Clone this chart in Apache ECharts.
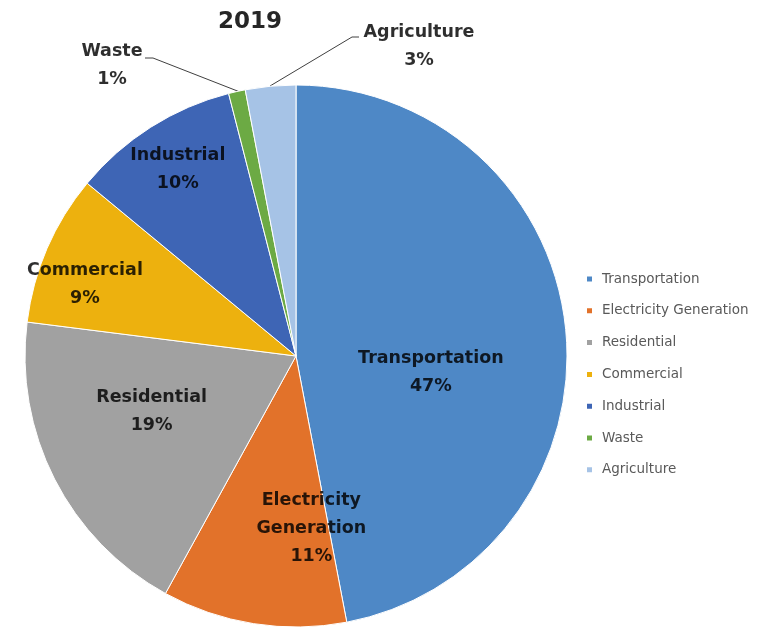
<!DOCTYPE html>
<html>
<head>
<meta charset="utf-8">
<script src="https://cdn.jsdelivr.net/npm/echarts@6/dist/echarts.min.js"></script>
<style>
html,body{margin:0;padding:0;background:#fff;}
#chart{width:761px;height:629px;}
</style>
</head>
<body>
<div id="chart"></div>
<script>
const titleText = '2019';
const categories = ['Transportation', 'Electricity Generation', 'Residential', 'Commercial', 'Industrial', 'Waste', 'Agriculture'];
const values = [47, 11, 19, 9, 10, 1, 3];
const colors = ['#4E88C6', '#E2722A', '#A1A1A1', '#EDB10E', '#3E65B5', '#6CAA44', '#A6C3E6'];
const labelOffsets = [[-3, 29], [37, 36], [-21, -7], [-84, -17], [-44, -70], [0, 0], [0, 0]];

const chart = echarts.init(document.getElementById('chart'));

const data = categories.map((c, i) => {
  const item = { name: c, value: values[i], itemStyle: { color: colors[i] } };
  if (i < 5) {
    item.label = { position: 'inside', offset: labelOffsets[i] };
  } else {
    item.label = { position: 'outside' };
    item.labelLine = { show: true, lineStyle: { color: '#404040', width: 1 } };
  }
  return item;
});

chart.setOption({
  backgroundColor: '#ffffff',
  animation: false,
  title: {
    text: titleText,
    left: 245, top: 6, textAlign: 'center',
    textStyle: { fontFamily: 'DejaVu Sans', fontWeight: 'bold', fontSize: 23, color: '#262626' }
  },
  legend: {
    orient: 'vertical',
    left: 580, top: 267,
    itemWidth: 7, itemHeight: 7, itemGap: 17.8,
    icon: 'rect',
    textStyle: { fontFamily: 'DejaVu Sans', fontSize: 13.5, color: '#595959', padding: [0, 0, 0, 4] },
    data: categories
  },
  series: [{
    type: 'pie',
    center: [296, 356],
    radius: [0, 271],
    startAngle: 90,
    clockwise: true,
    avoidLabelOverlap: false,
    itemStyle: { borderColor: '#ffffff', borderWidth: 1 },
    label: {
      show: true,
      fontFamily: 'DejaVu Sans', fontWeight: 'bold', fontSize: 17.5, lineHeight: 28,
      color: 'rgba(0,0,0,0.82)', align: 'center',
      formatter: p => p.name.replace(' ', '\n') + '\n' + p.value + '%'
    },
    labelLine: { show: false },
    labelLayout: function (p) {
      if (p.dataIndex === 5) {
        return { x: 112, y: 65, align: 'center', verticalAlign: 'middle',
                 labelLinePoints: [[240, 92], [153, 58], [145, 58]] };
      }
      if (p.dataIndex === 6) {
        return { x: 419, y: 46, align: 'center', verticalAlign: 'middle',
                 labelLinePoints: [[270, 86], [352, 37], [359, 37]] };
      }
    },
    data: data
  }]
});
</script>
</body>
</html>
